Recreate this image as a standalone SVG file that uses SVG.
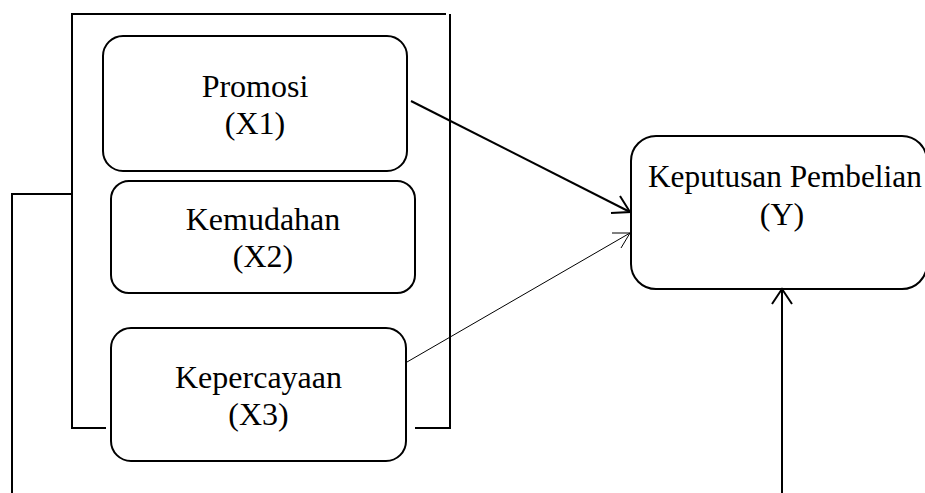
<svg xmlns="http://www.w3.org/2000/svg" width="925" height="493" viewBox="0 0 925 493">
<style>
.box{fill:#fff;stroke:#000;stroke-width:2}
.ln{fill:none;stroke:#000;stroke-width:2}
.thin{fill:none;stroke:#000;stroke-width:1}
text{font-family:"Liberation Serif","Times New Roman",serif;font-size:32px;fill:#000;text-anchor:middle}
</style>
<rect width="925" height="493" fill="#fff"/>
<g id="frame">
<polyline class="ln" points="106,428 72,428 72,14 446,14"/>
<polyline class="ln" points="450,14 450,428 415,428"/>
<polyline class="ln" points="72,194 12,194 12,493"/>
</g>
<g id="x1">
<rect class="box" x="103" y="36" width="304" height="135" rx="20"/>
<text x="255" y="97">Promosi</text>
<text x="255" y="134">(X1)</text>
</g>
<g id="x2">
<rect class="box" x="111" y="181" width="304" height="112" rx="18"/>
<text x="263" y="230">Kemudahan</text>
<text x="263" y="267">(X2)</text>
</g>
<g id="x3">
<rect class="box" x="111" y="328" width="295" height="133" rx="20"/>
<text x="258.5" y="388">Kepercayaan</text>
<text x="258.5" y="425">(X3)</text>
</g>
<g id="y">
<rect class="box" x="631" y="136" width="296" height="153" rx="25"/>
<text x="648" y="187" style="text-anchor:start;font-size:31.3px">Keputusan Pembelian</text>
<text x="782" y="225">(Y)</text>
</g>
<g id="connectors">
<line class="ln" x1="411" y1="101" x2="630" y2="212"/>
<polyline class="ln" points="620,196 630,212 611,213"/>
<line class="thin" x1="407" y1="362" x2="630" y2="233"/>
<polyline class="thin" points="612,233 630,233 621,248"/>
<line class="ln" x1="782" y1="493" x2="782" y2="290"/>
<polyline class="ln" points="772,304 782,289 792,304"/>
</g>
</svg>
